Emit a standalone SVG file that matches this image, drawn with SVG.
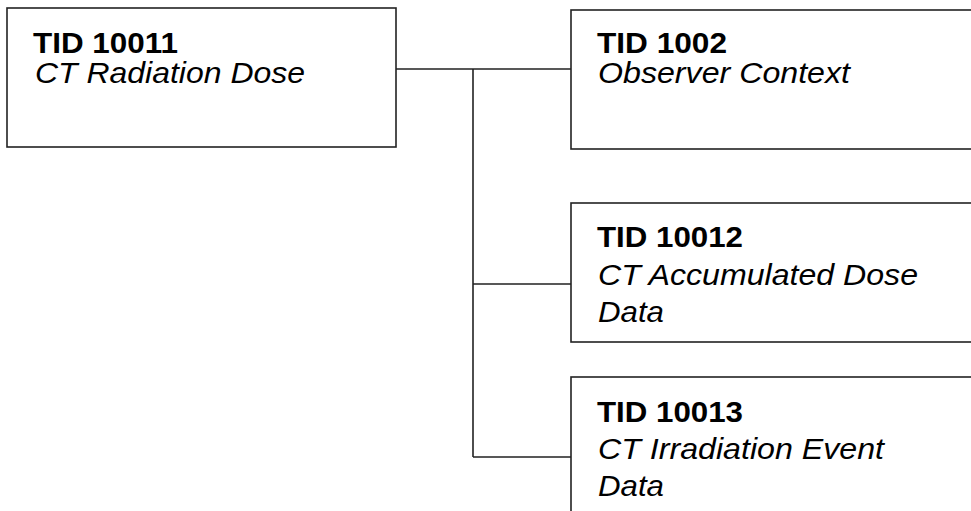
<svg xmlns="http://www.w3.org/2000/svg" width="971" height="511" viewBox="0 0 971 511">
<style>
.box{fill:#fff;stroke:#222;stroke-width:1.6}
.t{font-family:"Liberation Sans",Arial,sans-serif;font-size:29px;font-weight:bold;fill:#000}
.s{font-family:"Liberation Sans",Arial,sans-serif;font-size:29px;font-style:italic;fill:#000}
.c{fill:none;stroke:#222;stroke-width:1.6}
</style>
<rect width="971" height="511" fill="#fff"/>
<g id="connectors">
<path class="c" d="M396 69H571M473 69V457M473 284H571M473 457H571"/>
</g>
<g id="tid10011">
<rect class="box" x="7" y="8" width="389" height="139"/>
<text class="t" x="33" y="53" textLength="145" lengthAdjust="spacingAndGlyphs">TID 10011</text>
<text class="s" x="35" y="83" textLength="270" lengthAdjust="spacingAndGlyphs">CT Radiation Dose</text>
</g>
<g id="tid1002">
<rect class="box" x="571" y="10" width="420" height="139"/>
<text class="t" x="597" y="53" textLength="130" lengthAdjust="spacingAndGlyphs">TID 1002</text>
<text class="s" x="598" y="83" textLength="252" lengthAdjust="spacingAndGlyphs">Observer Context</text>
</g>
<g id="tid10012">
<rect class="box" x="571" y="203" width="420" height="139"/>
<text class="t" x="597" y="247" textLength="146" lengthAdjust="spacingAndGlyphs">TID 10012</text>
<text class="s" x="598" y="285" textLength="320" lengthAdjust="spacingAndGlyphs">CT Accumulated Dose</text>
<text class="s" x="598" y="322" textLength="66" lengthAdjust="spacingAndGlyphs">Data</text>
</g>
<g id="tid10013">
<rect class="box" x="571" y="377" width="420" height="160"/>
<text class="t" x="597" y="422" textLength="146" lengthAdjust="spacingAndGlyphs">TID 10013</text>
<text class="s" x="598" y="459" textLength="286" lengthAdjust="spacingAndGlyphs">CT Irradiation Event</text>
<text class="s" x="598" y="496" textLength="66" lengthAdjust="spacingAndGlyphs">Data</text>
</g>
</svg>
